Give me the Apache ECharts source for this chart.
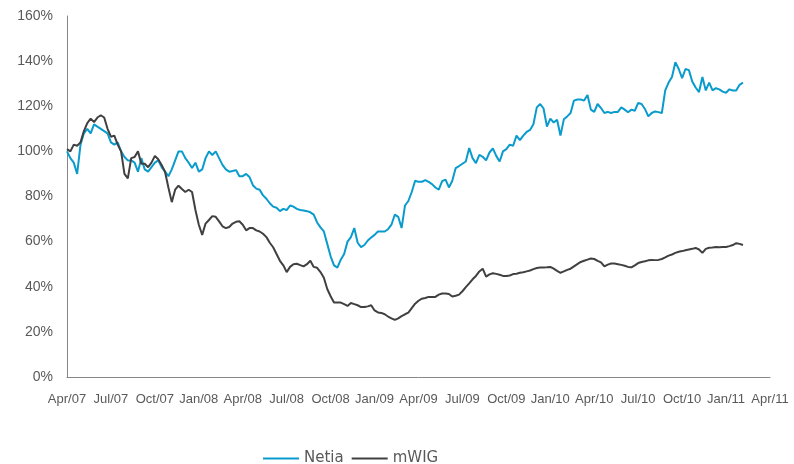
<!DOCTYPE html>
<html>
<head>
<meta charset="utf-8">
<script src="https://cdn.jsdelivr.net/npm/echarts@6/dist/echarts.min.js"></script>
<style>
html,body{margin:0;padding:0;background:#fff;}
#chart{width:794px;height:464px;}
</style>
</head>
<body>
<div id="chart"></div>
<script>
// Quarter tick labels (x axis, one per 13 weeks)
var quarterLabels = ['Apr/07','Jul/07','Oct/07','Jan/08','Apr/08','Jul/08','Oct/08','Jan/09','Apr/09','Jul/09','Oct/09','Jan/10','Apr/10','Jul/10','Oct/10','Jan/11','Apr/11'];
var weeksPerQuarter = 13;

// Weekly values (% of start), starting at Apr/07
var netia = [
100,97,95,90,103,108,110,108,112,111,110,109,108,104,103,104,100,97.5,96,96,
95,91,97,92,91,93,95,96,93,91,89,92,96,100,100,97,95,92.6,95,91,
92,97,100,98.4,100,97,94,92,91,91.3,91.7,89,89,90,88.6,85,83.5,83,80.5,79,
77,75.5,75,73.5,74.5,74,76,75.5,74.5,74,73.8,73.5,73,72,68.5,66.3,64.5,59,53.5,49.5,
48.5,52,54.5,60,62,66,59.5,57.6,58.5,60.5,61.8,63,64.5,64.5,64.5,65.5,67.5,72,71,66,
76,78,82,87,86.5,86.5,87.3,86.5,85.5,84,83,86.8,87.5,84,87,92.6,93.5,94.5,95.5,101.5,
97,94.8,98.5,97.6,96,99.5,101.3,98,95.5,100,101,103,102.5,107,105,107,108.6,109.5,112,119.5,
121,119,111,114.5,112.8,114,107,114.2,115.5,117,122.5,123,123,122.5,125,118.5,117.5,121,119.2,117,
117.5,117,117.5,117.5,119.5,118.5,117.3,118.5,118,121.5,121,118.8,115.5,117,117.7,117.4,117,127,130.5,133,
139.5,136.5,132.5,136.5,136,131,128.3,126.3,133,127,130.5,127,128,127.5,126.5,126,127.5,127,127,129.5,
130.5
];
var mwig = [
101,100,103,102.5,104,109,112.5,114.5,113,115,116,115,110,106.5,107,103,100,90,88,97,
97.5,100,94.5,94.5,93,95,98,96.5,94,91,84,77.5,83,84.8,83.3,82,83,82,74,67.5,
63,68,69.6,71.3,71,69,66.8,66,66.5,68,68.8,69,67.5,65,66,66,65,64.5,63.5,62,
59.5,57.5,54.5,51.5,49.5,46.5,48.8,50,50.2,49.6,49,50,51.5,48.8,48.4,46.5,44,39,35.8,33,
33,33,32.3,31.5,32.8,32.3,31.8,31,31,31.3,31.8,29.5,28.6,28.4,27.8,26.8,26,25.3,26,27,
27.8,28.5,30.5,32.5,33.8,34.7,35,35.5,35.5,35.5,36.5,37,37,36.8,35.7,36,36.5,38,39.8,41.5,
43.3,44.8,46.8,48,44.5,45.5,46,45.7,45.3,44.8,44.8,45,45.6,45.8,46.2,46.4,46.8,47.2,47.8,48.3,
48.5,48.5,48.6,48.8,48,47,46.2,46.8,47.5,48,49,50,51,51.5,52,52.5,52.3,51.5,50.8,49,
49.8,50.3,50.3,50,49.7,49.3,48.8,48.6,49.5,50.5,51,51.3,51.7,51.9,51.8,51.9,52.3,53,53.8,54.3,
55,55.5,55.8,56.2,56.5,56.8,57.2,56.5,55,56.8,57.3,57.4,57.6,57.5,57.6,57.6,58,58.5,59.3,59,
58.5
];

function toPairs(arr){ return arr.map(function(v,i){ return [i, v]; }); }

var chart = echarts.init(document.getElementById('chart'), null, {renderer:'canvas'});
var font = 'Liberation Sans, Arial, sans-serif';
chart.setOption({
  animation:false,
  backgroundColor:'#ffffff',
  grid:{left:67, right:24, top:16, bottom:87, containLabel:false},
  legend:{
    data:['Netia','mWIG'],
    top:446, left:258, padding:5,
    icon:'rect', itemWidth:36, itemHeight:2, itemGap:8,
    textStyle:{fontFamily:'DejaVu Sans, sans-serif', fontSize:15, color:'#595959'}
  },
  xAxis:{
    type:'value', min:0, max:(quarterLabels.length-1)*weeksPerQuarter, interval:weeksPerQuarter,
    axisLine:{show:true, lineStyle:{color:'#868686', width:1}},
    axisTick:{show:false},
    splitLine:{show:false},
    axisLabel:{
      fontFamily:font, fontSize:13, color:'#595959', margin:16,
      formatter:function(v){ return quarterLabels[Math.round(v/weeksPerQuarter)] || ''; }
    }
  },
  yAxis:{
    type:'value', min:0, max:160, interval:20,
    axisLine:{show:true, lineStyle:{color:'#868686', width:1}},
    axisTick:{show:false},
    splitLine:{show:false},
    axisLabel:{fontFamily:font, fontSize:14, color:'#595959', margin:14, formatter:'{value}%'}
  },
  series:[
    {name:'Netia', type:'line', data:toPairs(netia), showSymbol:false, symbol:'none',
     lineStyle:{color:'#0A9BCD', width:2}, itemStyle:{color:'#0A9BCD'}},
    {name:'mWIG', type:'line', data:toPairs(mwig), showSymbol:false, symbol:'none',
     lineStyle:{color:'#404040', width:2}, itemStyle:{color:'#404040'}}
  ]
});
</script>
</body>
</html>
